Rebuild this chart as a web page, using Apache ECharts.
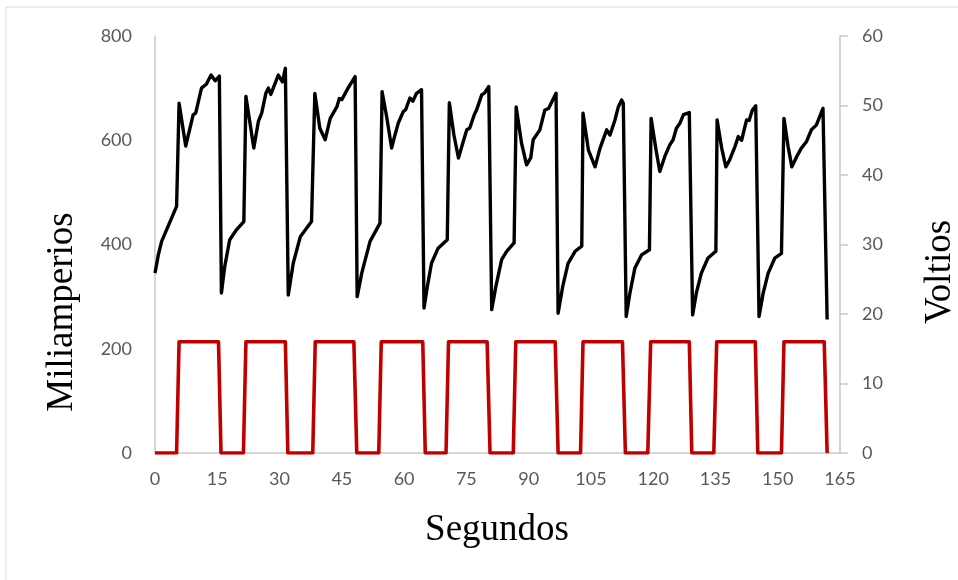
<!DOCTYPE html>
<html>
<head>
<meta charset="utf-8">
<script src="https://cdn.jsdelivr.net/npm/echarts@6/dist/echarts.min.js"></script>
<style>
  html, body { margin: 0; padding: 0; background: #fff; }
  #chart { width: 958px; height: 580px; }
</style>
</head>
<body>
<div id="chart"></div>
<script>
// tiempo (s) y corriente (mA), linea negra
var currentTime = [0, 0.8, 1.6, 5.2, 5.8, 7.4, 9.2, 9.8, 11.2, 12.4, 13.5, 14.5, 15.5,
  16.0, 16.8, 18.0, 19.6, 21.4, 21.9, 23.8, 24.9, 25.7, 26.7, 27.3, 27.9, 29.7, 30.7, 31.4,
  32.1, 33.3, 35.0, 37.7, 38.5, 39.7, 41.0, 42.2, 43.8, 44.4, 45.0, 46.5, 48.2,
  48.7, 49.8, 51.8, 54.2, 54.7, 55.8, 57.0, 57.6, 58.6, 59.8, 60.4, 61.4, 62.1, 63.0, 64.2,
  64.8, 65.6, 66.6, 68.2, 70.4, 70.9, 72.0, 73.1, 73.9, 75.1, 75.8, 76.9, 77.5, 78.7, 79.4, 80.4,
  81.1, 82.1, 83.5, 84.7, 86.5, 87.0, 88.3, 89.5, 90.5, 91.1, 92.7, 93.9, 94.8, 95.8, 96.6,
  97.1, 98.2, 99.5, 101.2, 102.8, 103.1, 104.4, 106.0, 107.2, 108.8, 109.6, 110.8, 111.6, 112.4, 112.8,
  113.5, 114.4, 115.6, 117.2, 119.1, 119.5, 120.7, 121.6, 122.8, 124.0, 124.8, 125.6, 126.4, 127.3, 128.7,
  129.5, 130.4, 131.6, 133.2, 135.1, 135.4, 136.5, 137.5, 138.4, 139.7, 140.5, 141.3, 142.5, 143.1, 143.9, 144.7,
  145.5, 146.5, 147.7, 149.3, 150.9, 151.5, 152.5, 153.4, 154.6, 155.7, 156.9, 158.1, 159.3, 160.9, 161.9];
var currentMA = [345, 380, 406, 473, 671, 589, 649, 652, 700, 708, 725, 714, 723,
  307, 358, 409, 428, 444, 684, 585, 636, 652, 690, 700, 688, 725, 712, 738,
  303, 364, 415, 444, 690, 623, 601, 642, 664, 680, 678, 700, 722,
  300, 345, 406, 441, 693, 645, 585, 604, 633, 655, 659, 681, 675, 690, 697,
  278, 319, 364, 393, 409, 672, 610, 566, 588, 620, 623, 649, 659, 687, 691, 703,
  275, 319, 371, 387, 403, 664, 594, 553, 566, 601, 620, 658, 661, 677, 690,
  268, 319, 364, 387, 397, 652, 581, 549, 585, 620, 610, 639, 664, 677, 671,
  262, 307, 355, 380, 390, 642, 581, 540, 569, 591, 601, 623, 632, 649, 653,
  265, 307, 345, 374, 387, 639, 585, 549, 562, 588, 607, 600, 639, 638, 658, 666,
  262, 307, 345, 374, 383, 642, 588, 549, 569, 585, 597, 620, 629, 661, 256];

// tiempo (s) y voltaje (V), linea roja
var voltTime = [0, 5.2, 5.8, 15.3, 15.9, 21.3, 21.9, 31.4, 32.0, 38.0, 38.6, 47.9, 48.6,
  53.9, 54.5, 64.5, 65.1, 70.1, 70.7, 80.0, 80.7, 86.3, 86.9, 96.4, 97.1, 102.5, 103.1,
  112.6, 113.3, 118.7, 119.4, 128.7, 129.3, 134.6, 135.3, 144.6, 145.2, 150.9, 151.5, 161.2, 161.9];
var voltV = [0, 0, 16, 16, 0, 0, 16, 16, 0, 0, 16, 16, 0,
  0, 16, 16, 0, 0, 16, 16, 0, 0, 16, 16, 0, 0, 16,
  16, 0, 0, 16, 16, 0, 0, 16, 16, 0, 0, 16, 16, 0];

var xTicks = { min: 0, max: 165, interval: 15 };
var leftTicks = { min: 0, max: 800, interval: 200 };
var rightTicks = { min: 0, max: 60, interval: 10 };

var chartDom = document.getElementById("chart");
var myChart = echarts.init(chartDom);

var labelStyle = { color: "#595959", fontSize: 18, fontFamily: "Lato" };
var axisGray = "#c9c9c9";
var titleFont = "Liberation Serif";

var option = {
  animation: false,
  grid: { left: 155, right: 118, top: 36, bottom: 127 },
  graphic: [
    {
      type: "rect",
      shape: { x: 6, y: 7, width: 1200, height: 1000 },
      style: { fill: "none", stroke: "#d9d9d9", lineWidth: 1 },
      silent: true,
    },
    {
      type: "text",
      x: 497, y: 530,
      style: { text: "Segundos", font: "37px " + titleFont, fill: "#000", textAlign: "center", textVerticalAlign: "middle" },
    },
    {
      type: "text",
      x: 62, y: 312, rotation: Math.PI / 2,
      style: { text: "Miliamperios", font: "37px " + titleFont, fill: "#000", textAlign: "center", textVerticalAlign: "middle" },
    },
    {
      type: "text",
      x: 940, y: 272, rotation: Math.PI / 2,
      style: { text: "Voltios", font: "37px " + titleFont, fill: "#000", textAlign: "center", textVerticalAlign: "middle" },
    },
  ],
  xAxis: {
    type: "value",
    min: xTicks.min,
    max: xTicks.max,
    interval: xTicks.interval,
    axisLine: { show: true, lineStyle: { color: axisGray, width: 1.5 } },
    axisTick: { show: false },
    splitLine: { show: false },
    axisLabel: Object.assign({ margin: 17 }, labelStyle),
  },
  yAxis: [
    {
      type: "value",
      position: "left",
      min: leftTicks.min,
      max: leftTicks.max,
      interval: leftTicks.interval,
      axisLine: { show: true, lineStyle: { color: axisGray, width: 1.5 } },
      axisTick: { show: false },
      splitLine: { show: false },
      axisLabel: Object.assign({ margin: 23 }, labelStyle),
    },
    {
      type: "value",
      position: "right",
      min: rightTicks.min,
      max: rightTicks.max,
      interval: rightTicks.interval,
      axisLine: { show: true, lineStyle: { color: axisGray, width: 1.5 } },
      axisTick: { show: true, length: 8, lineStyle: { color: axisGray, width: 1.5 } },
      splitLine: { show: false },
      axisLabel: Object.assign({ margin: 22 }, labelStyle),
    },
  ],
  series: [
    {
      name: "Voltaje",
      type: "line",
      yAxisIndex: 1,
      showSymbol: false,
      data: voltTime.map(function (t, i) { return [t, voltV[i]]; }),
      lineStyle: { color: "#C00000", width: 3.6, join: "round" },
      itemStyle: { color: "#C00000" },
    },
    {
      name: "Corriente",
      type: "line",
      yAxisIndex: 0,
      showSymbol: false,
      data: currentTime.map(function (t, i) { return [t, currentMA[i]]; }),
      lineStyle: { color: "#000000", width: 3.4, join: "round" },
      itemStyle: { color: "#000000" },
    },
  ],
};

option && myChart.setOption(option);
</script>
</body>
</html>
